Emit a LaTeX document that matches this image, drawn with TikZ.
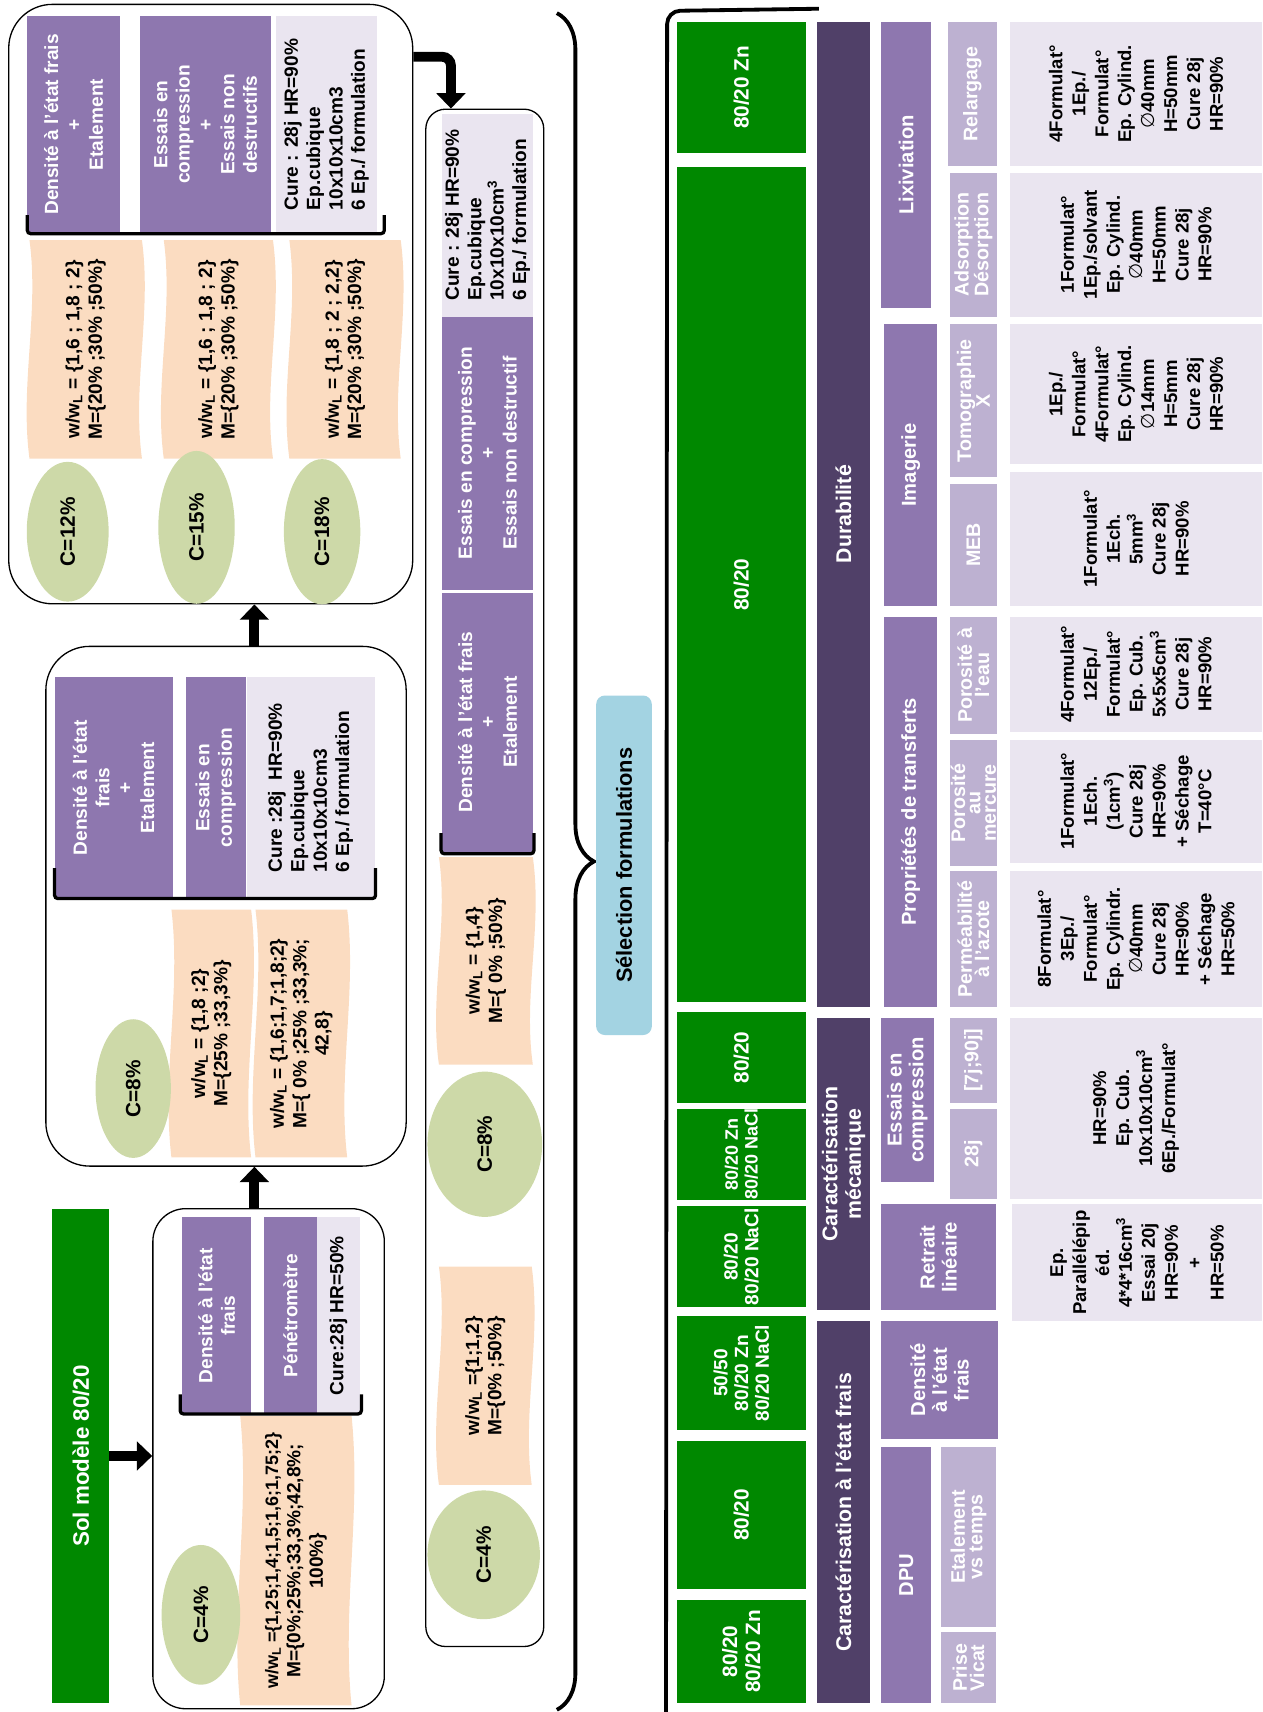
\documentclass[tikz,border=0pt]{standalone}
\usepackage{fontspec}
\setmainfont{Liberation Sans}
\newfontfamily\dejavu{DejaVu Sans}
\usetikzlibrary{shapes.geometric,arrows.meta,decorations.pathreplacing}

\definecolor{cgreen}{RGB}{0,136,0}
\definecolor{cdark}{RGB}{80,64,104}
\definecolor{cmid}{RGB}{142,119,175}
\definecolor{clight}{RGB}{189,177,209}
\definecolor{clav}{RGB}{234,229,240}
\definecolor{cpeach}{RGB}{251,220,193}
\definecolor{cdose}{RGB}{205,217,168}
\definecolor{cblue}{RGB}{163,211,226}

\newcommand\dia{{\dejavu\mdseries ∅}}
% cell from its corners: name, style, x1, y1, x2, y2, text
\newcommand\cellbox[7]{%
  \node[#2, minimum width={(#6-#4)*1pt}, minimum height={(#5-#3)*1pt}] (#1)
    at ({(#3+#5)/2},{(#4+#6)/2}) {#7};}
% peach band with wavy sides
\newcommand\wavebox[6]{%
  \fill[cpeach] (#2,#3) .. controls ({#2+9},{#3+(#5-#3)/3}) and ({#2-9},{#3+2*(#5-#3)/3}) .. (#2,#5)
    -- (#4,#5) .. controls ({#4-9},{#3+2*(#5-#3)/3}) and ({#4+9},{#3+(#5-#3)/3}) .. (#4,#3) -- cycle;
  \node[cell, text=black] (#1) at ({(#2+#4)/2},{(#3+#5)/2}) {#6};}

\tikzset{
  every node/.style={inner sep=0pt, font=\bfseries\fontsize{17.5}{20.5}\selectfont},
  cell/.style={rotate=90, align=center, text=white},
  box/.style={cell, fill=cmid},
  grn/.style={cell, fill=cgreen, font=\bfseries\fontsize{19}{21}\selectfont},
  dark/.style={cell, fill=cdark, font=\bfseries\fontsize{19.5}{21.5}\selectfont},
  mid/.style={cell, fill=cmid, font=\bfseries\fontsize{18.5}{20}\selectfont},
  light/.style={cell, fill=clight, font=\bfseries\fontsize{18}{16}\selectfont},
  note/.style={cell, fill=clav, text=black},
  spec/.style={note, font=\bfseries\fontsize{17}{21}\selectfont},
  dose/.style={rotate=90, ellipse, fill=cdose, text=black, font=\bfseries\fontsize{19}{21}\selectfont},
  frame/.style={draw, rounded corners=#1, line width=1.2pt},
  fat/.style={line width=9pt, -{Triangle[width=26pt,length=14pt]}},
  bar/.style={line width=3pt, rounded corners=3pt},
}

\begin{document}
\begin{tikzpicture}[x=1pt,y=-1pt]
    \useasboundingbox (0,0) rectangle (1156,1568);

    % containers
    \node[frame=40pt, minimum width=370pt, minimum height=549pt] (box3) at (193,278.5) {};
    \node[frame=40pt, minimum width=330pt, minimum height=476pt] (box2) at (207,830) {};
    \node[frame=30pt, minimum width=212pt, minimum height=458pt] (box1) at (246,1336) {};
    \node[frame=18pt, minimum width=108pt, minimum height=1408pt] (box4) at (444,804) {};

    \cellbox{sol}{grn, font=\bfseries\fontsize{20.5}{22}\selectfont}{48}{1107}{100}{1560}{Sol modèle 80/20}

    % box 1
    \cellbox{dens1}{box}{167}{1115}{230}{1295}{Densité à l’état\\frais}
    \cellbox{pene1}{box}{242}{1115}{290}{1295}{Pénétromètre}
    \cellbox{cure1}{note}{290}{1115}{330}{1295}{Cure:28j HR=50\%}
    \draw[bar] (165,1277) -- (165,1295) -- (331,1295) -- (331,1277);
    \wavebox{w1}{220}{1297}{322}{1562}{\fontsize{16.5}{20.5}\selectfont w/w\textsubscript{L} =\{1,25;1,4;1,5;1,6;1,75;2\}\\M=\{0\%;25\%;33,3\%;42,8\%;\\100\%\}}
    \node[dose, minimum width=128pt, minimum height=72pt] (c4a) at (184,1479) {C=4\%};

    % box 2
    \cellbox{dens2}{box}{50}{620}{158}{823}{Densité à l’état\\frais\\+\\Etalement}
    \cellbox{comp2}{box}{170}{620}{225}{823}{Essais en\\compression}
    \cellbox{cure2}{note, align=left}{226}{620}{343}{823}{Cure :28j~~HR=90\%\\Ep.cubique\\10x10x10cm3\\6 Ep./ formulation}
    \draw[bar] (50,795) -- (50,823) -- (344,823) -- (344,795);
    \wavebox{w2a}{157}{833}{230}{1060}{w/w\textsubscript{L} = \{1,8 ;2\}\\M=\{25\% ;33,3\%\}}
    \wavebox{w2b}{234}{833}{318}{1060}{w/w\textsubscript{L} = \{1,6;1,7;1,8;2\}\\M=\{ 0\% ;25\% ;33,3\%;\\42,8\}}
    \node[dose, minimum width=127pt, minimum height=69pt] (c8a) at (122,997) {C=8\%};

    % box 3
    \cellbox{dens3}{box}{25}{15}{110}{213}{Densité à l’état frais\\+\\Etalement}
    \cellbox{comp3}{box}{128}{15}{248}{213}{Essais en\\compression\\+\\Essais non\\destructifs}
    \cellbox{cure3}{note, align=left}{253}{15}{345}{213}{Cure : 28j HR=90\%\\Ep.cubique\\10x10x10cm3\\6 Ep./ formulation}
    \draw[bar] (25,197) -- (25,214) -- (352,214) -- (352,197);
    \wavebox{w3a}{27}{220}{130}{420}{w/w\textsubscript{L} = \{1,6 ; 1,8 ; 2\}\\M=\{20\% ;30\% ;50\%\}}
    \wavebox{w3b}{150}{220}{250}{420}{w/w\textsubscript{L} = \{1,6 ; 1,8 ; 2\}\\M=\{20\% ;30\% ;50\%\}}
    \wavebox{w3c}{265}{220}{367}{420}{w/w\textsubscript{L} = \{1,8 ; 2 ; 2,2\}\\M=\{20\% ;30\% ;50\%\}}
    \node[dose, minimum width=128pt, minimum height=75pt] (c12) at (62,487) {C=12\%};
    \node[dose, minimum width=140pt, minimum height=70pt] (c15) at (180,483) {C=15\%};
    \node[dose, minimum width=133pt, minimum height=70pt] (c18) at (295,487) {C=18\%};

    % box 4
    \cellbox{cure4}{note, align=left}{405}{104}{488}{290}{Cure : 28j HR=90\%\\Ep.cubique\\10x10x10cm\textsuperscript{3}\\6 Ep./ formulation}
    \cellbox{comp4}{box}{405}{290}{488}{540}{Essais en compression\\+\\Essais non destructif}
    \cellbox{dens4}{box}{405}{543}{488}{780}{Densité à l’état frais\\+\\Etalement}
    \draw[bar] (404,763) -- (404,782) -- (489,782) -- (489,763);
    \wavebox{w4a}{402}{785}{488}{975}{w/w\textsubscript{L} = \{1,4\}\\M=\{ 0\% ;50\%\}}
    \wavebox{w4b}{402}{1160}{487}{1360}{w/w\textsubscript{L} =\{1;1,2\}\\M=\{0\% ;50\%\}}
    \node[dose, minimum width=133pt, minimum height=105pt] (c8b) at (444,1048) {C=8\%};
    \node[dose, minimum width=118pt, minimum height=103pt] (c4b) at (443,1424) {C=4\%};

    % arrows
    \coordinate (ax) at (233,0);
    \coordinate (turn) at (413,52);
    \draw[fat] (sol.south) -- (sol.south -| box1.west);
    \draw[fat] (box1.north -| ax) -- (box2.south -| ax);
    \draw[fat] (box2.north -| ax) -- (box3.south -| ax);
    \draw[fat, rounded corners=8pt] (box3.east |- turn) -- (turn) -- (turn |- box4.north);

    % selection
    \draw[line width=3.5pt, decorate, decoration={brace, amplitude=34pt}] (510,12) -- (510,1566);
    \cellbox{sel}{cell, fill=cblue, text=black, rounded corners=8pt, font=\bfseries\fontsize{20}{22}\selectfont}{546}{637}{597}{948}{Sélection formulations}
    \draw[line width=3.5pt, rounded corners=12pt] (750,8) -- (611,10) -- (610,1570);

    % formulations
    \cellbox{g1}{grn}{620}{20}{738}{140}{80/20 Zn}
    \cellbox{g2}{grn}{620}{153}{738}{918}{80/20}
    \cellbox{g3}{grn}{620}{927}{738}{1010}{80/20}
    \cellbox{g4}{grn, font=\bfseries\fontsize{16.5}{18}\selectfont}{620}{1016}{738}{1098}{80/20 Zn\\80/20 NaCl}
    \cellbox{g5}{grn, font=\bfseries\fontsize{17.5}{19}\selectfont}{620}{1105}{738}{1197}{80/20\\80/20 NaCl}
    \cellbox{g6}{grn, font=\bfseries\fontsize{17.5}{19}\selectfont}{620}{1205}{738}{1310}{50/50\\80/20 Zn\\80/20 NaCl}
    \cellbox{g7}{grn}{620}{1320}{738}{1455}{80/20}
    \cellbox{g8}{grn}{620}{1465}{738}{1560}{80/20\\80/20 Zn}

    % families of tests
    \cellbox{k1}{dark}{748}{20}{797}{922}{Durabilité}
    \cellbox{k2}{dark}{748}{932}{797}{1200}{Caractérisation\\mécanique}
    \cellbox{k3}{dark}{748}{1210}{797}{1560}{Caractérisation à l’état frais}

    \cellbox{m1}{mid}{807}{20}{853}{282}{Lixiviation}
    \cellbox{m2}{mid}{810}{297}{858}{555}{Imagerie}
    \cellbox{m3}{mid}{810}{565}{858}{922}{Propriétés de transferts}
    \cellbox{m4}{mid}{807}{932}{855}{1083}{Essais en\\compression}
    \cellbox{m5}{mid}{807}{1103}{912}{1200}{Retrait\\linéaire}
    \cellbox{m6}{mid}{807}{1210}{914}{1318}{Densité\\à l’état\\frais}
    \cellbox{m7}{mid}{807}{1325}{853}{1560}{DPU}

    \cellbox{l1}{light}{868}{20}{913}{152}{Relargage}
    \cellbox{l2}{light}{870}{158}{913}{290}{Adsorption\\Désorption}
    \cellbox{l3}{light}{870}{297}{913}{437}{Tomographie\\X}
    \cellbox{l4}{light}{870}{443}{913}{555}{MEB}
    \cellbox{l5}{light}{870}{565}{913}{672}{Porosité à\\l’eau}
    \cellbox{l6}{light, font=\bfseries\fontsize{18}{14}\selectfont}{870}{678}{913}{793}{Porosité\\au\\mercure}
    \cellbox{l7}{light}{870}{798}{913}{922}{Perméabilité\\à l’azote}
    \cellbox{l8}{light}{870}{932}{913}{1010}{[7j;90j]}
    \cellbox{l9}{light}{870}{1016}{913}{1098}{28j}
    \cellbox{l10}{light}{862}{1325}{912}{1490}{Etalement\\vs temps}
    \cellbox{l11}{light}{862}{1495}{912}{1560}{Prise\\Vicat}

    % specimens
    \cellbox{v1}{spec}{925}{20}{1156}{152}{4Formulat°\\1Ep./\\Formulat°\\Ep. Cylind.\\\dia40mm\\H=50mm\\Cure 28j\\HR=90\%}
    \cellbox{v2}{spec}{925}{158}{1156}{290}{1Formulat°\\1Ep./solvant\\Ep. Cylind.\\\dia40mm\\H=50mm\\Cure 28j\\HR=90\%}
    \cellbox{v3}{spec}{925}{297}{1156}{425}{1Ep./\\Formulat°\\4Formulat°\\Ep. Cylind.\\\dia14mm\\H=5mm\\Cure 28j\\HR=90\%}
    \cellbox{v4}{spec}{925}{432}{1156}{555}{1Formulat°\\1Ech.\\5mm\textsuperscript{3}\\Cure 28j\\HR=90\%}
    \cellbox{v5}{spec}{925}{565}{1156}{670}{4Formulat°\\12Ep./\\Formulat°\\Ep. Cub.\\5x5x5cm\textsuperscript{3}\\Cure 28j\\HR=90\%}
    \cellbox{v6}{spec}{925}{678}{1156}{790}{1Formulat°\\1Ech.\\(1cm\textsuperscript{3})\\Cure 28j\\HR=90\%\\+ Séchage\\T=40°C}
    \cellbox{v7}{spec}{925}{798}{1156}{922}{8Formulat°\\3Ep./\\Formulat°\\Ep. Cylindr.\\\dia40mm\\Cure 28j\\HR=90\%\\+ Séchage\\HR=50\%}
    \cellbox{v8}{spec}{925}{932}{1156}{1098}{HR=90\%\\Ep. Cub.\\10x10x10cm\textsuperscript{3}\\6Ep./Formulat°}
    \cellbox{v9}{spec}{927}{1103}{1156}{1210}{Ep.\\Parallélépip\\éd.\\4*4*16cm\textsuperscript{3}\\Essai 20j\\HR=90\%\\+\\HR=50\%}
\end{tikzpicture}
\end{document}
